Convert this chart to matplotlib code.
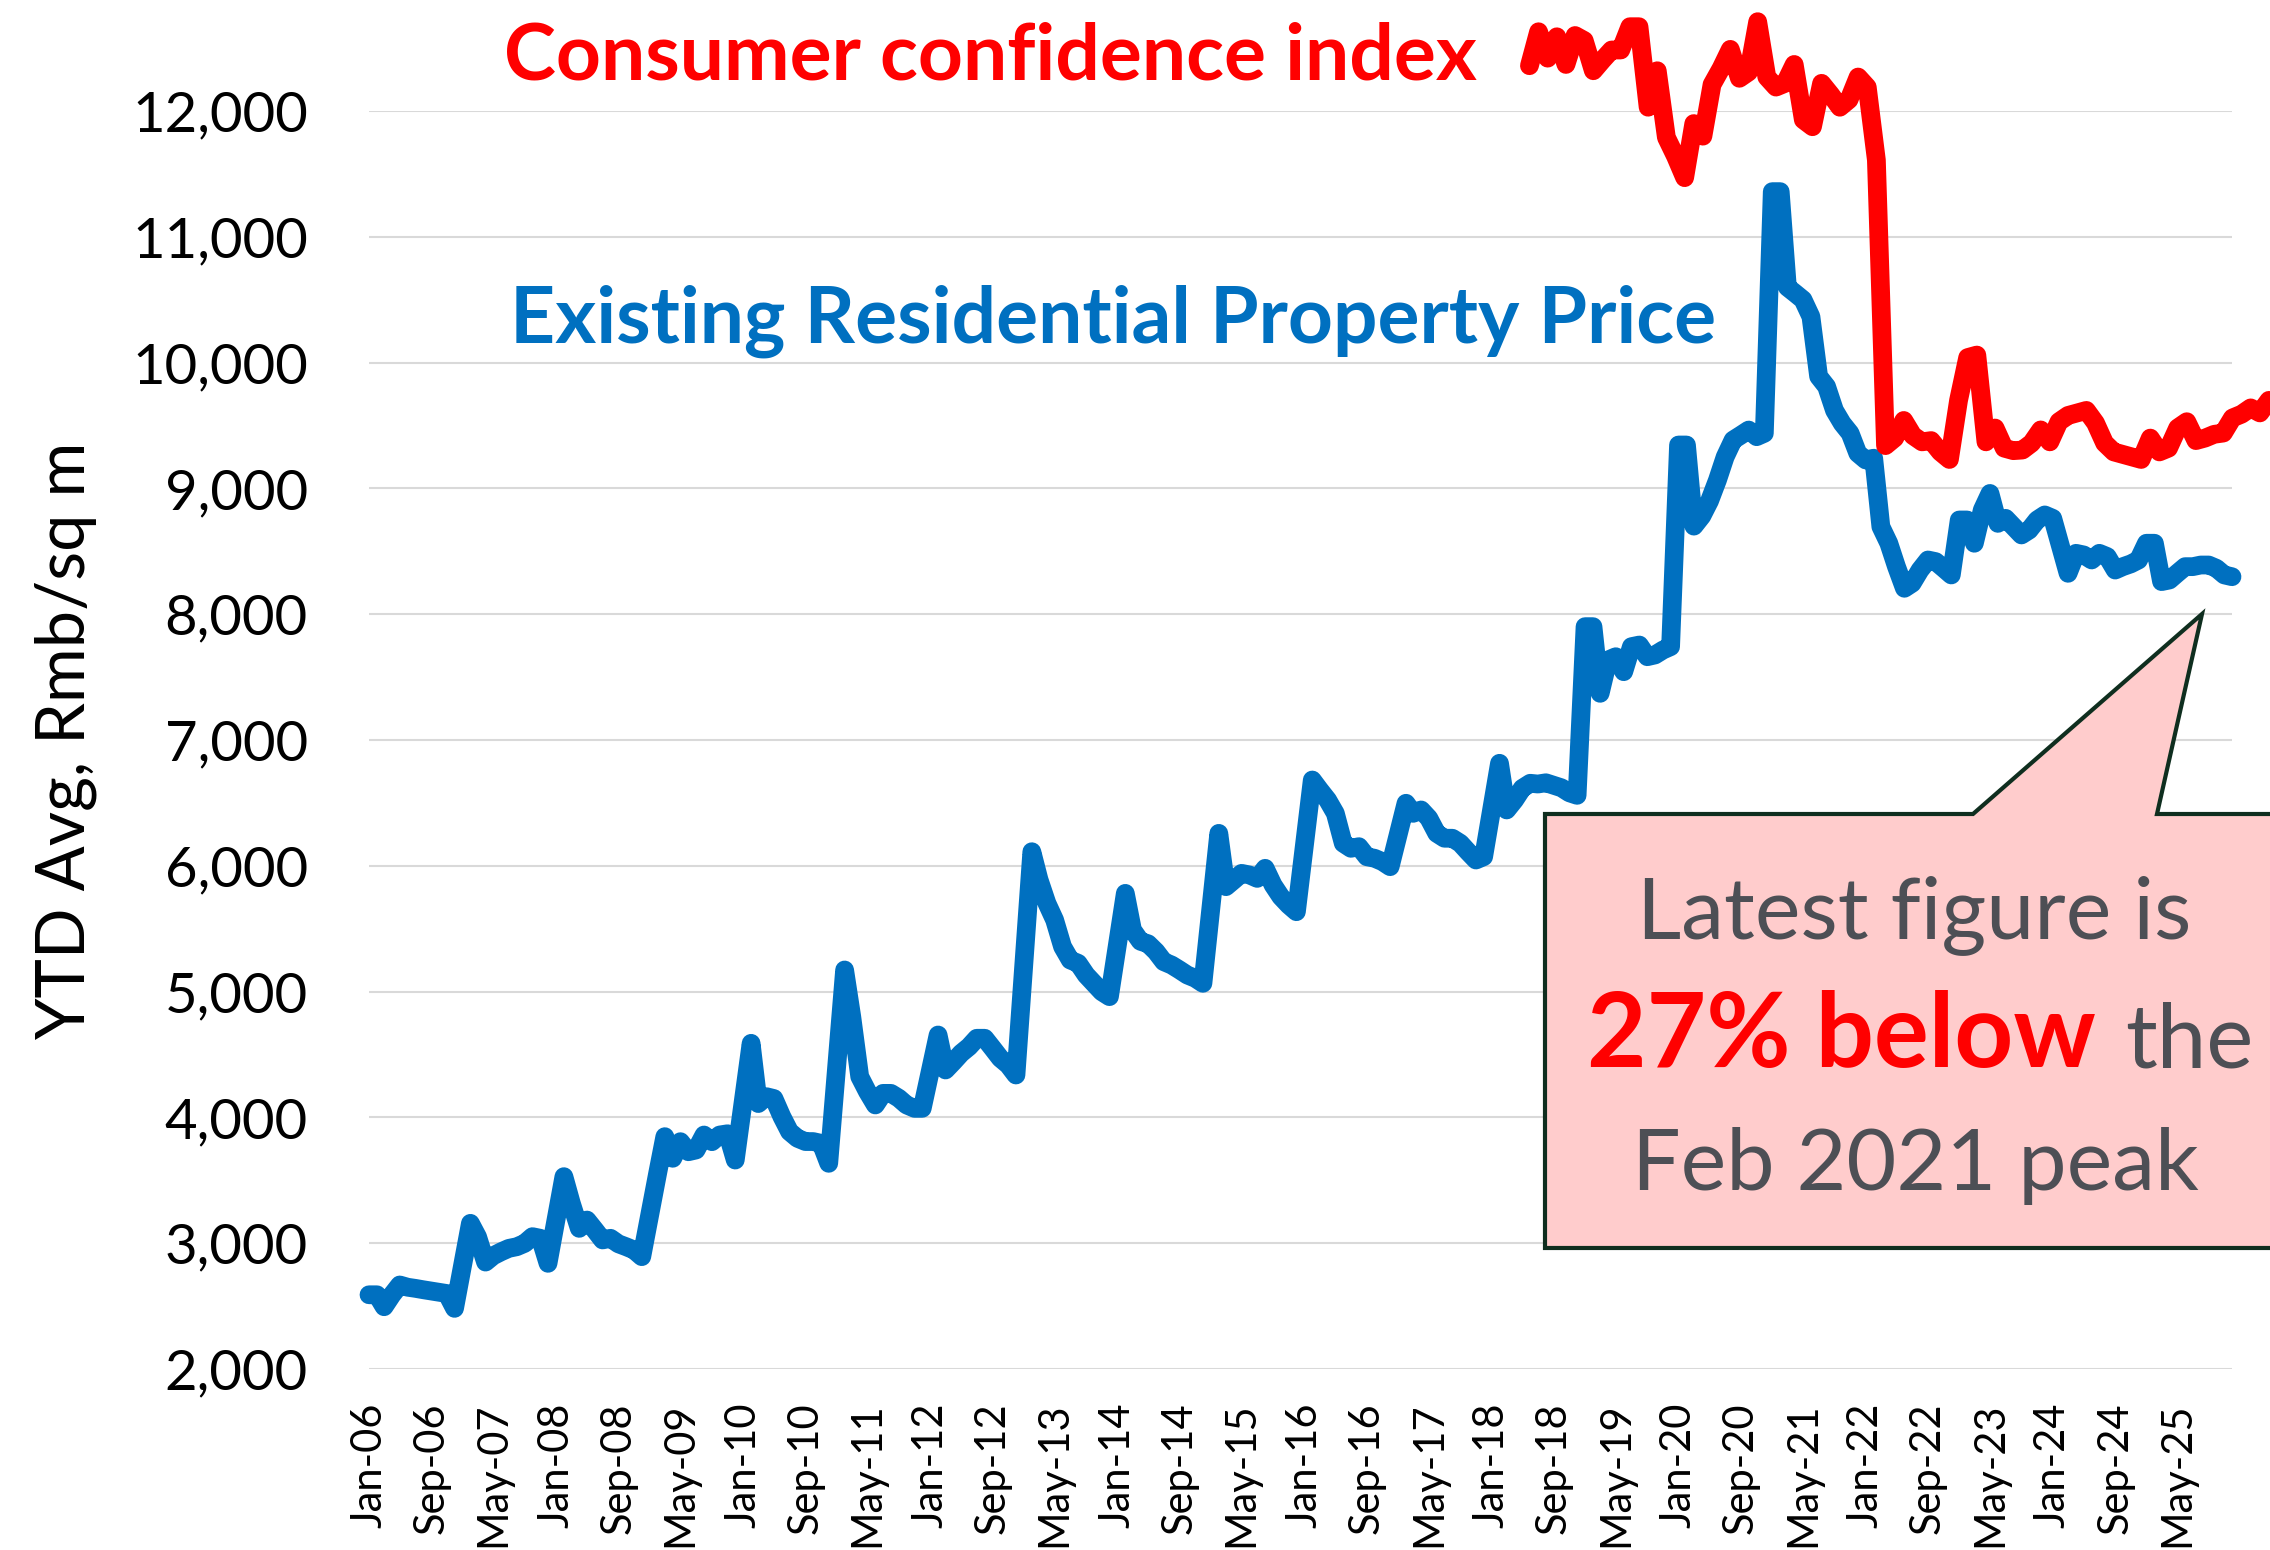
import numpy as np
import pandas as pd
import matplotlib
matplotlib.use("Agg")
import matplotlib.pyplot as plt
from matplotlib.patches import Polygon
from matplotlib.ticker import FuncFormatter

# Existing residential property price, YTD avg, Rmb/sq m, one list per year (Jan..Dec)
# None = no separate January figure (Jan-Feb published together)
price_2006 = [2590, 2590, 2495, 2590, 2668, 2650, 2641, 2630, 2620, 2610, 2600, 2482]
price_2007 = [None, 3158, 3050, 2850, 2900, 2932, 2959, 2972, 2999, 3052, 3039, 2840]
price_2008 = [None, 3529, 3317, 3118, 3184, 3105, 3026, 3039, 2995, 2972, 2946, 2893]
price_2009 = [None, 3556, 3847, 3675, 3807, 3727, 3741, 3860, 3807, 3860, 3870, 3661]
price_2010 = [None, 4589, 4110, 4165, 4150, 4006, 3887, 3834, 3808, 3808, 3794, 3635]
price_2011 = [None, 5172, 4800, 4324, 4205, 4099, 4191, 4191, 4152, 4099, 4072, 4072]
price_2012 = [None, 4655, 4377, 4443, 4510, 4562, 4629, 4629, 4549, 4470, 4417, 4337]
price_2013 = [None, 6112, 5890, 5702, 5569, 5357, 5251, 5225, 5132, 5066, 4999, 4960]
price_2014 = [None, 5781, 5490, 5400, 5380, 5318, 5238, 5211, 5172, 5132, 5106, 5066]
price_2015 = [None, 6258, 5834, 5887, 5940, 5927, 5900, 5980, 5847, 5755, 5688, 5635]
price_2016 = [None, 6682, 6603, 6523, 6417, 6179, 6139, 6152, 6072, 6060, 6033, 5993]
price_2017 = [None, 6497, 6417, 6444, 6378, 6258, 6219, 6219, 6179, 6112, 6046, 6072]
price_2018 = [None, 6815, 6444, 6523, 6616, 6656, 6650, 6660, 6640, 6620, 6580, 6560]
price_2019 = [7901, 7901, 7371, 7636, 7662, 7543, 7742, 7755, 7662, 7676, 7715, 7742]
price_2020 = [9345, 9345, 8700, 8780, 8900, 9066, 9250, 9384, 9424, 9464, 9411, 9438]
price_2021 = [11359, 11359, 10600, 10550, 10500, 10365, 9890, 9810, 9620, 9517, 9438, 9279]
price_2022 = [9226, 9240, 8696, 8564, 8378, 8206, 8246, 8351, 8431, 8418, 8365, 8312]
price_2023 = [8749, 8749, 8564, 8829, 8960, 8722, 8762, 8696, 8630, 8669, 8749, 8789]
price_2024 = [8762, 8537, 8325, 8484, 8471, 8431, 8484, 8458, 8351, 8378, 8400, 8431]
price_2025 = [8564, 8564, 8259, 8272, 8325, 8378, 8378, 8391, 8391, 8365, 8312, 8298]

# Consumer confidence index, drawn against its own (hidden) month axis from Jan-19,
# values read on the left-hand scale
confidence = [12360, 12630, 12420, 12590, 12370, 12600, 12560, 12320, 12405, 12485, 12485, 12670,
              12670, 12030, 12320, 11790, 11640, 11470, 11900, 11800, 12210, 12340, 12490, 12260,
              12310, 12710, 12270, 12190, 12220, 12370, 11930, 11875, 12220, 12130, 12030, 12090,
              12270, 12190, 11610, 9340, 9400, 9540, 9420, 9370, 9380, 9290, 9230, 9700,
              10040, 10060, 9370, 9480, 9320, 9300, 9305, 9360, 9465, 9370, 9530, 9580,
              9600, 9620, 9520, 9360, 9290, 9270, 9250, 9230, 9400, 9290, 9320, 9480,
              9530, 9380, 9400, 9430, 9440, 9560, 9590, 9640, 9600, 9700]

y_ticks = list(range(2000, 13000, 1000))

years = [price_2006, price_2007, price_2008, price_2009, price_2010, price_2011, price_2012,
         price_2013, price_2014, price_2015, price_2016, price_2017, price_2018, price_2019,
         price_2020, price_2021, price_2022, price_2023, price_2024, price_2025]
months = pd.date_range("2006-01-01", periods=12 * len(years), freq="MS")
price = pd.Series([v for yr in years for v in yr], index=months, dtype=float).dropna()

W, H = 2270, 1550
def fpos(x, y):
    return (x / W, 1 - y / H)

BLUE = "#0070C0"
RED = "#FF0000"
GREY = "#4D4F55"
FONT = "Lato"
LW = 13.5

fig = plt.figure(figsize=(W / 100, H / 100), dpi=100)
ax = fig.add_axes([369 / W, 181 / H, 1863 / W, 1258 / H])

ax.plot(price.index, price.values, color=BLUE, lw=LW,
        solid_joinstyle="round", solid_capstyle="round", clip_on=False, zorder=3)
ax.set_xlim(months[0], months[-1])
ax.set_ylim(2000, 12000)
ax.set_yticks(y_ticks)
ax.yaxis.set_major_formatter(FuncFormatter(lambda v, p: f"{v:,.0f}"))
ticks = months[::8]
ax.set_xticks(ticks)
ax.set_xticklabels([d.strftime("%b-%y") for d in ticks], rotation=90)
ax.tick_params(axis="y", length=0, pad=44, labelsize=40.5)
ax.tick_params(axis="x", length=0, pad=24, labelsize=30)
for lab in ax.get_xticklabels() + ax.get_yticklabels():
    lab.set_family(FONT)
ax.yaxis.grid(True, color="#D9D9D9", lw=1.5)
ax.set_axisbelow(True)
for s in ax.spines.values():
    s.set_visible(False)
ax.set_ylabel("YTD Avg, Rmb/sq m", fontsize=48, family=FONT)
ax.yaxis.set_label_coords(-0.146, 0.5)

# secondary axes for the confidence series
axr = fig.add_axes(ax.get_position(), frameon=False)
axr.plot(np.arange(len(confidence)), confidence, color=RED, lw=LW,
         solid_joinstyle="round", solid_capstyle="round", clip_on=False, zorder=3)
axr.set_xlim(-127.1, 76.95)
axr.set_ylim(2000, 12000)
axr.set_xticks([])
axr.set_yticks([])

fig.text(*fpos(504, 80), "Consumer confidence index", color=RED, fontsize=56.5,
         fontweight="bold", family=FONT, ha="left", va="baseline")
fig.text(*fpos(510, 343), "Existing Residential Property Price", color=BLUE, fontsize=56.5,
         fontweight="bold", family=FONT, ha="left", va="baseline")

# callout box
callout = [(1545, 814), (1973, 814), (2202, 614), (2157, 814), (2320, 814),
           (2320, 1248), (1545, 1248)]
fig.add_artist(Polygon([fpos(x, y) for x, y in callout], closed=True,
                       transform=fig.transFigure, facecolor="#FFCCCC",
                       edgecolor="#0F2E1F", lw=3, zorder=5))
fig.text(*fpos(1914, 938), "Latest figure is", color=GREY, fontsize=62,
         family=FONT, ha="center", va="baseline", zorder=6)
fig.text(*fpos(2096, 1067), "27% below", color=RED, fontsize=74, fontweight="bold",
         family=FONT, ha="right", va="baseline", zorder=6)
fig.text(*fpos(2125, 1067), "the", color=GREY, fontsize=64,
         family=FONT, ha="left", va="baseline", zorder=6)
fig.text(*fpos(1915, 1190), "Feb 2021 peak", color=GREY, fontsize=62,
         family=FONT, ha="center", va="baseline", zorder=6)

fig.savefig("out.png", dpi=100)
